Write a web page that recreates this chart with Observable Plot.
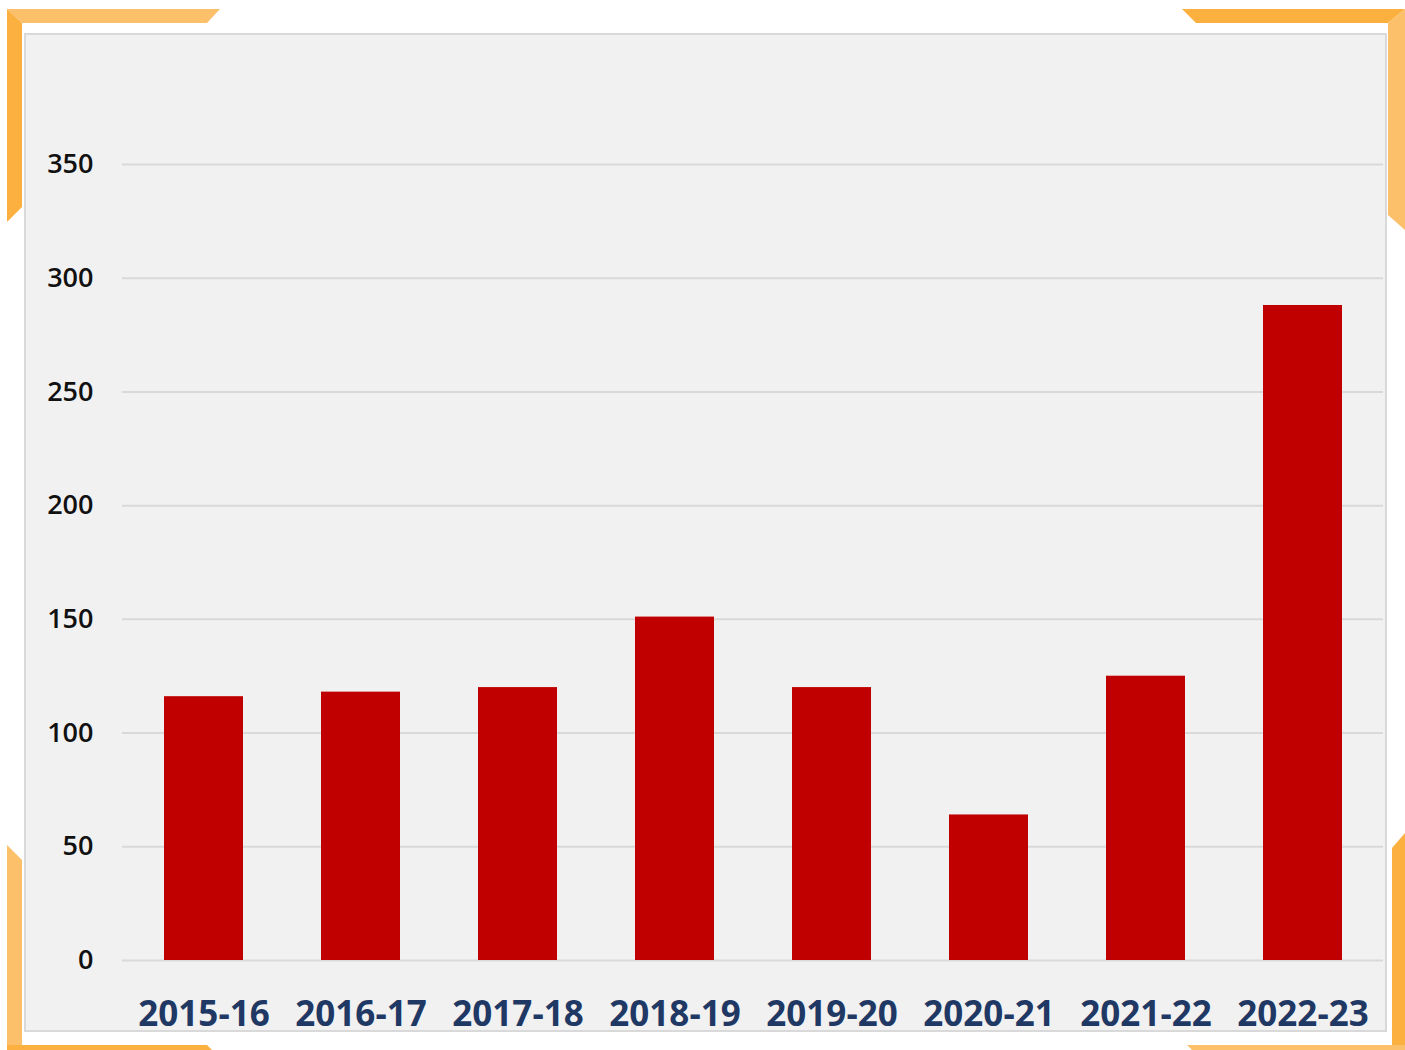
<!DOCTYPE html>
<html>
<head>
<meta charset="utf-8">
<script src="https://cdn.jsdelivr.net/npm/d3@7"></script>
<script src="https://cdn.jsdelivr.net/npm/@observablehq/plot@0.6"></script>
<style>
  html, body { margin: 0; padding: 0; background: #ffffff; }
  body { width: 1405px; height: 1050px; position: relative; overflow: hidden; font-family: "Open Sans", sans-serif; }
  .deco { position: absolute; left: 0; top: 0; width: 1405px; height: 1050px; }
  .panel { position: absolute; left: 24px; top: 33px; width: 1359px; height: 995px; background: #f1f1f1; border: 2px solid #d9d9d9; }
  #chart { position: absolute; left: 0; top: 0; }
</style>
</head>
<body>
<svg class="deco" viewBox="0 0 1405 1050">
  <polygon points="7,9 220,9 207,23 22,23" fill="#fcc06b"/>
  <polygon points="7,9 22,23 22,207 7,222" fill="#fbb040"/>
  <polygon points="1182,9 1405,9 1388,23 1196,23" fill="#fbb040"/>
  <polygon points="1388,23 1405,9 1405,230 1388,215" fill="#fcc06b"/>
  <polygon points="7,845 22,860 22,1050 7,1050" fill="#fcc06b"/>
  <polygon points="7,1045 207,1045 212,1050 7,1050" fill="#fbb040"/>
  <polygon points="1392,848 1405,833 1405,1050 1392,1050" fill="#fbb040"/>
  <polygon points="1187,1045 1405,1045 1405,1050 1192,1050" fill="#fcc06b"/>
</svg>
<div class="panel"></div>
<div id="chart"></div>
<script>
const years = ["2015-16", "2016-17", "2017-18", "2018-19", "2019-20", "2020-21", "2021-22", "2022-23"];
const values = [116, 118, 120, 151, 120, 64, 125, 288];
const yTicks = [0, 50, 100, 150, 200, 250, 300, 350];

const data = years.map((y, i) => ({year: y, value: values[i]}));

const chart = Plot.plot({
  width: 1405,
  height: 1050,
  marginLeft: 122,
  marginRight: 22,
  marginTop: 164,
  marginBottom: 90,
  style: {background: "transparent", overflow: "visible"},
  x: {domain: years, paddingInner: 0.5, paddingOuter: 0.25, label: null},
  y: {domain: [0, 350], ticks: yTicks, label: null},
  marks: [
    Plot.gridY(yTicks, {stroke: "#d9d9d9", strokeOpacity: 1, strokeWidth: 2}),
    Plot.barY(data, {x: "year", y: "value", fill: "#c00000"}),
    Plot.axisY({ticks: yTicks, tickSize: 0, tickPadding: 29, fontSize: 27, fontWeight: 600, fill: "#111111", fontFamily: "Open Sans", label: null}),
    Plot.axisX({tickSize: 0, tickPadding: 41, fontSize: 35, fontWeight: 700, fill: "#1f3864", fontFamily: "Open Sans", label: null})
  ]
});
document.getElementById("chart").appendChild(chart);
</script>
</body>
</html>
